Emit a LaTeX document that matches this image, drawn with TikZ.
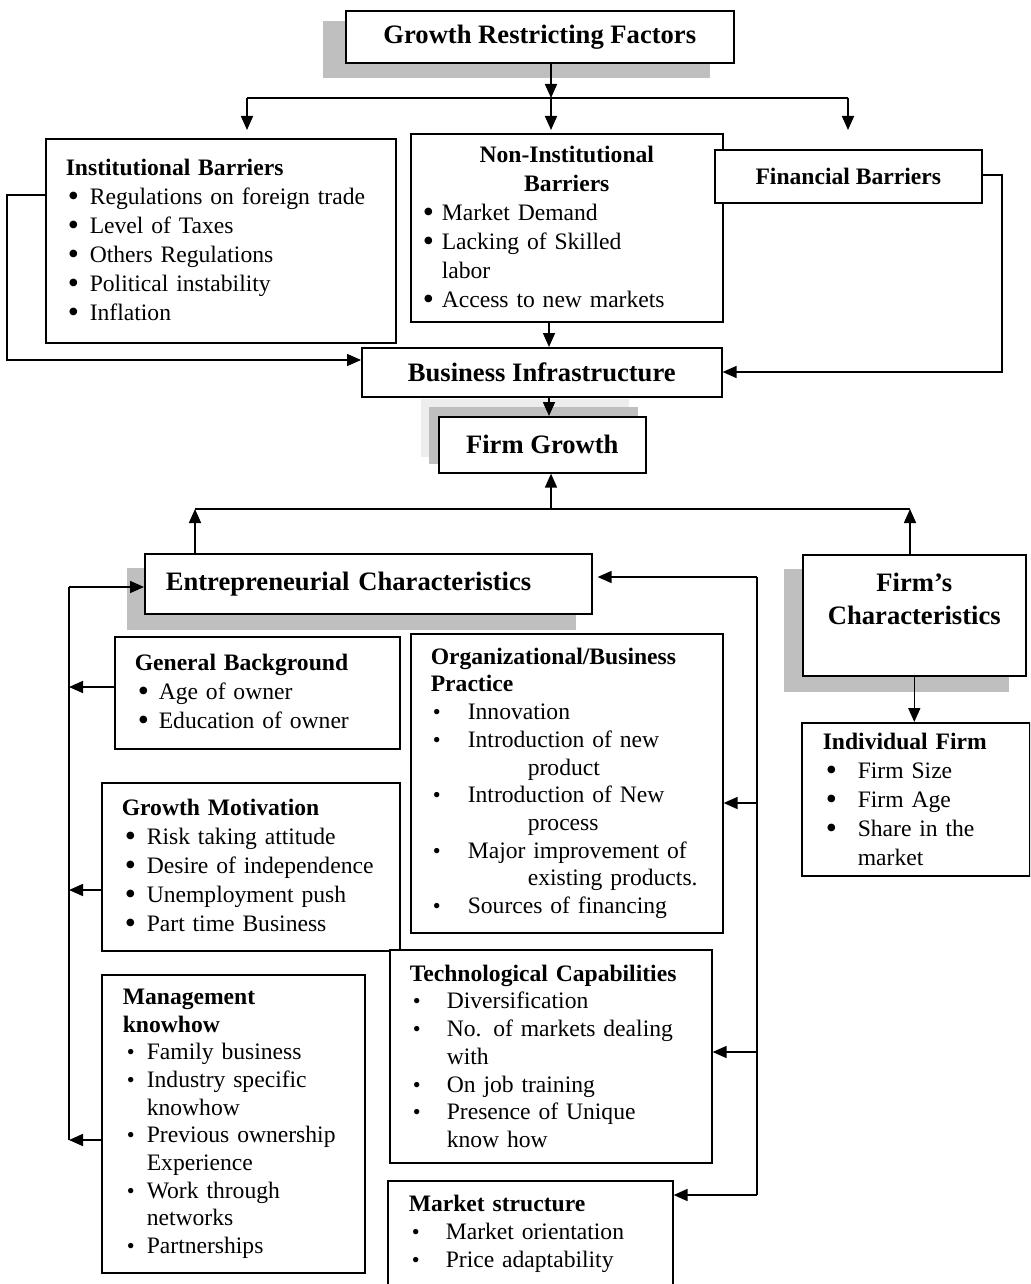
\documentclass[tikz,border=0pt]{standalone}
\usepackage{fontspec}
\setmainfont{Liberation Serif}
\usepackage{tikz}
\usetikzlibrary{arrows.meta}
\definecolor{shadowgray}{HTML}{BFBFBF}
\definecolor{paleshadow}{HTML}{EDEDED}
\newcommand{\itemfont}{\fontsize{23.6}{29}\selectfont}
\newcommand{\tightfont}{\fontsize{23.6}{27.7}\selectfont}
\newcommand{\headfont}{\fontsize{26.6}{33}\selectfont\bfseries}
\newcommand{\bul}[3]{\hspace*{#1}\makebox[#2][l]{\raisebox{-2pt}{\scalebox{1.35}{\textbullet}}}\mbox{#3}}
\newcommand{\sbul}[3]{\hspace*{#1}\makebox[#2][l]{\scalebox{.95}{\textbullet}}\mbox{#3}}
\newcommand{\cont}[2]{\hspace*{#1}\mbox{#2}}

\begin{document}
\begin{tikzpicture}[x=1pt, y=-1pt,
  box/.style={draw, fill=white, line width=1.6pt, anchor=north west, align=left, inner ysep=0pt, font=\itemfont},
  title/.style={draw, fill=white, line width=1.6pt, anchor=north west, align=center, inner sep=0pt, font=\headfont},
  wire/.style={line width=1.6pt},
  arr/.style={line width=1.6pt, -{Triangle[length=14pt, width=12pt]}}]
\clip (0,0) rectangle (1030,1284);

\fill[shadowgray] (323,21) rectangle (710,78);
\fill[paleshadow] (421,399) rectangle (629,457);
\fill[shadowgray] (429,407) rectangle (638,464);
\fill[shadowgray] (127,568) rectangle (576,630);
\fill[shadowgray] (784,569) rectangle (1009,692);

\node[title, minimum width=388pt, minimum height=52pt] (grf) at (345,10) {Growth Restricting Factors};
\node[box, inner xsep=20pt, text width=310pt, minimum height=204pt] (inst) at (45,138) {\textbf{Institutional Barriers}\\
 \bul{2pt}{22pt}{Regulations on foreign trade}\\ \bul{2pt}{22pt}{Level of Taxes}\\ \bul{2pt}{22pt}{Others Regulations}\\
 \bul{2pt}{22pt}{Political instability}\\ \bul{2pt}{22pt}{Inflation}};
\node[box, inner xsep=10pt, text width=292pt, minimum height=188pt] (ninst) at (410,133) {\makebox[\hsize]{\textbf{Non-Institutional}}\\
 \makebox[\hsize]{\textbf{Barriers}}\\ \bul{2pt}{19pt}{Market Demand}\\ \bul{2pt}{19pt}{Lacking of Skilled}\\
 \cont{21pt}{labor}\\ \bul{2pt}{19pt}{Access to new markets}};
\node[title, font=\itemfont\bfseries, minimum width=267pt, minimum height=53pt] (fin) at (714,149) {Financial Barriers};
\node[title, minimum width=360pt, minimum height=49pt] (binf) at (361,347) {Business Infrastructure};
\node[title, minimum width=207pt, minimum height=56pt] (fgrow) at (438,416) {Firm Growth};
\node[box, font=\headfont, inner xsep=21pt, text width=405pt, minimum height=60pt] (echar) at (144,553) {Entrepreneurial Characteristics};
\node[title, minimum width=223pt, minimum height=121pt] (fchar) at (802,554) {Firm’s\\Characteristics\\\mbox{}};
\node[box, inner xsep=20pt, text width=245pt, minimum height=112pt] (gback) at (114,636) {\textbf{General Background}\\
 \bul{3pt}{21pt}{Age of owner}\\ \bul{3pt}{21pt}{Education of owner}};
\node[box, inner xsep=20pt, text width=258pt, minimum height=168pt] (gmot) at (101,782) {\textbf{Growth Motivation}\\
 \bul{3pt}{22pt}{Risk taking attitude}\\ \bul{3pt}{22pt}{Desire of independence}\\ \bul{3pt}{22pt}{Unemployment push}\\
 \bul{3pt}{22pt}{Part time Business}};
\node[box, font=\tightfont, inner xsep=20pt, text width=272pt, minimum height=299pt] (org) at (410,633) {\textbf{Organizational/Business}\\
 \textbf{Practice}\\ \sbul{2pt}{35pt}{Innovation}\\ \sbul{2pt}{35pt}{Introduction of new}\\ \cont{97pt}{product}\\
 \sbul{2pt}{35pt}{Introduction of New}\\ \cont{97pt}{process}\\ \sbul{2pt}{35pt}{Major improvement of}\\
 \cont{97pt}{existing products.}\\ \sbul{2pt}{35pt}{Sources of financing}};
\node[box, font=\tightfont, inner xsep=20pt, text width=282pt, minimum height=213pt] (tech) at (389,949) {\textbf{Technological Capabilities}\\
 \sbul{3pt}{34pt}{Diversification}\\ \sbul{3pt}{34pt}{No. of markets dealing}\\ \cont{37pt}{with}\\
 \sbul{3pt}{34pt}{On job training}\\ \sbul{3pt}{34pt}{Presence of Unique}\\ \cont{37pt}{know how}};
\node[box, font=\tightfont, inner xsep=21pt, text width=243pt, minimum height=106pt] (mstr) at (387,1180) {\textbf{Market structure}\\
 \sbul{3pt}{34pt}{Market orientation}\\ \sbul{3pt}{34pt}{Price adaptability}};
\node[box, font=\tightfont, inner xsep=21pt, text width=221pt, minimum height=298pt] (mgmt) at (101,974) {\textbf{Management}\\
 \textbf{knowhow}\\ \sbul{4pt}{20pt}{Family business}\\ \sbul{4pt}{20pt}{Industry specific}\\ \cont{24pt}{knowhow}\\
 \sbul{4pt}{20pt}{Previous ownership}\\ \cont{24pt}{Experience}\\ \sbul{4pt}{20pt}{Work through}\\ \cont{24pt}{networks}\\
 \sbul{4pt}{20pt}{Partnerships}};
\node[box, inner xsep=21pt, text width=186pt, minimum height=153pt] (indf) at (801,722) {\textbf{Individual Firm}\\
 \bul{3pt}{32pt}{Firm Size}\\ \bul{3pt}{32pt}{Firm Age}\\ \bul{3pt}{32pt}{Share in the}\\ \cont{35pt}{market}};

\coordinate (jl) at (247,98);
\coordinate (jc) at (551,98);
\coordinate (jr) at (848,98);
\coordinate (tl) at (247,130);
\coordinate (tc) at (551,130);
\coordinate (tr) at (848,130);
\draw[arr] (grf.south -| jc) -- (jc);
\draw[wire] (jl) -- (jr);
\draw[arr] (jl) -- (tl);
\draw[arr] (jc) -- (tc);
\draw[arr] (jr) -- (tr);

\coordinate (il1) at (7,195);
\coordinate (il2) at (7,360);
\draw[arr] (il1 -| inst.west) -- (il1) -- (il2) -- (il2 -| binf.west);
\coordinate (fr1) at (1002,175);
\coordinate (fr2) at (1002,372);
\draw[arr] (fr1 -| fin.east) -- (fr1) -- (fr2) -- (fr2 -| binf.east);
\coordinate (ax) at (549,0);
\draw[arr] (ninst.south -| ax) -- (binf.north -| ax);
\draw[arr] (binf.south -| ax) -- (fgrow.north -| ax);

\coordinate (gl) at (195,509);
\coordinate (gc) at (551,509);
\coordinate (gr) at (910,509);
\draw[wire] (gl) -- (gr);
\draw[arr] (gc) -- (fgrow.south -| gc);
\draw[arr] (echar.north -| gl) -- (gl);
\draw[arr] (fchar.north -| gr) -- (gr);
\draw[arr] (fchar.south) -- (fchar.south |- indf.north);

\coordinate (rs) at (757,577);
\coordinate (ro) at (757,803);
\coordinate (rt) at (757,1052);
\coordinate (rb) at (757,1195);
\draw[wire] (rs) -- (rb);
\draw[arr, shorten >=5pt] (rs) -- (rs -| echar.east);
\draw[arr] (ro) -- (ro -| org.east);
\draw[arr] (rt) -- (rt -| tech.east);
\draw[arr] (rb) -- (rb -| mstr.east);

\coordinate (ls) at (69,587);
\coordinate (lg) at (69,687);
\coordinate (lm) at (69,890);
\coordinate (lb) at (69,1140);
\draw[wire] (lb) -- (ls);
\draw[arr] (ls) -- (ls -| echar.west);
\draw[arr] (lg -| gback.west) -- (lg);
\draw[arr] (lm -| gmot.west) -- (lm);
\draw[arr] (lb -| mgmt.west) -- (lb);
\end{tikzpicture}
\end{document}
